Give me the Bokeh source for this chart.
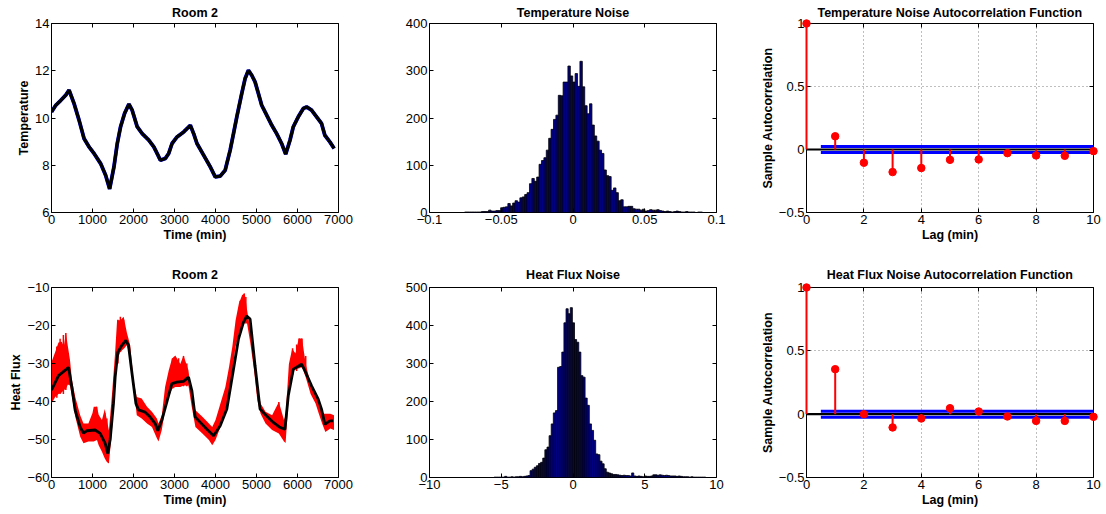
from bokeh.plotting import figure
from bokeh.models import Range1d, FixedTicker, LinearAxis, Span
from bokeh.layouts import column, row
from bokeh.embed import file_html
from bokeh.resources import INLINE

FONT = "Liberation Sans"
M = "\u2212"

# ---------------- data ----------------
# Room 2 temperature (smoothed, min)
temp_time = [0, 105, 227, 348, 429, 551, 672, 794, 915, 1037, 1199, 1320, 1418, 1523, 1604, 1685,
             1782, 1888, 1968, 2090, 2212, 2373, 2495, 2576, 2656, 2778, 2859, 2940, 3062, 3224,
             3386, 3467, 3548, 3710, 3873, 3993, 4115, 4236, 4358, 4439, 4520, 4641, 4722, 4803,
             4884, 4965, 5046, 5127, 5249, 5370, 5492, 5613, 5712, 5817, 5898, 6019, 6141, 6222,
             6343, 6465, 6586, 6667, 6789, 6894]
temp_value = [10.26, 10.54, 10.75, 10.97, 11.18, 10.61, 9.91, 9.13, 8.78, 8.5, 8.07, 7.58, 7.0,
              7.93, 8.92, 9.63, 10.19, 10.59, 10.33, 9.63, 9.34, 9.06, 8.78, 8.5, 8.21, 8.29, 8.5,
              8.92, 9.2, 9.41, 9.69, 9.34, 8.92, 8.43, 7.93, 7.51, 7.54, 7.79, 8.64, 9.34, 10.05,
              11.04, 11.67, 12.02, 11.81, 11.53, 11.04, 10.54, 10.12, 9.7, 9.34, 8.92, 8.47, 9.06,
              9.63, 10.05, 10.4, 10.47, 10.33, 10.05, 9.77, 9.27, 8.99, 8.71]

# Room 2 heat flux (smoothed)
heat_time = [0, 171, 374, 415, 496, 577, 699, 780, 862, 1065, 1187, 1309, 1374, 1431, 1512, 1553,
             1618, 1716, 1813, 1878, 1960, 2058, 2123, 2285, 2407, 2529, 2594, 2692, 2814, 2936,
             3057, 3220, 3342, 3423, 3505, 3630, 3791, 3953, 4115, 4277, 4439, 4560, 4681, 4763,
             4844, 4965, 5087, 5249, 5411, 5573, 5694, 5775, 5898, 6100, 6181, 6343, 6505, 6586,
             6667, 6789, 6870]
heat_value = [-37.0, -33.2, -31.4, -31.0, -36.2, -42.3, -46.7, -48.3, -47.7, -47.5, -48.4, -51.0,
              -53.7, -50.0, -40.5, -33.6, -27.0, -25.2, -23.9, -25.2, -32.3, -40.5, -42.2, -42.8,
              -44.1, -45.8, -47.7, -44.9, -40.1, -35.3, -34.9, -34.7, -33.6, -37.1, -44.1, -45.5,
              -47.3, -49.0, -46.4, -42.0, -31.5, -23.6, -19.2, -17.5, -18.3, -30.6, -42.0, -43.8,
              -45.5, -46.8, -47.3, -38.5, -31.5, -30.2, -31.9, -35.9, -39.4, -42.0, -46.0, -45.1,
              -45.1]

# Room 2 heat flux measurements: envelope of the noisy red trace
env_time = [0, 90, 170, 250, 300, 350, 400, 450, 500, 580, 700, 780, 900, 1000, 1030, 1110, 1150,
            1230, 1300, 1350, 1400, 1470, 1550, 1600, 1680, 1760, 1840, 1920, 2000, 2080, 2200,
            2330, 2450, 2570, 2610, 2690, 2770, 2860, 2940, 3020, 3140, 3220, 3340, 3420, 3510,
            3680, 3840, 3920, 4000, 4120, 4240, 4330, 4410, 4490, 4570, 4650, 4715, 4770, 4850,
            4940, 5020, 5100, 5220, 5380, 5545, 5670, 5710, 5790, 5870, 5950, 6030, 6110, 6200,
            6320, 6440, 6520, 6600, 6680, 6800, 6890]
env_upper = [-29.6, -27.0, -24.5, -24.3, -25.5, -22.0, -25.5, -29.0, -34.4, -38.8, -43.6, -45.8,
             -45.8, -43.0, -41.4, -41.4, -43.5, -44.9, -42.0, -44.9, -47.6, -38.8, -27.4, -18.6,
             -18.6, -17.7, -22.0, -25.2, -34.4, -38.8, -39.2, -41.4, -42.7, -44.5, -45.8, -43.6,
             -36.2, -31.8, -28.7, -27.9, -30.1, -27.9, -31.8, -38.8, -42.3, -44.0, -45.8, -46.7,
             -44.9, -40.5, -36.2, -30.9, -25.6, -18.6, -14.2, -12.0, -11.6, -15.9, -21.2, -28.3,
             -36.2, -40.5, -42.7, -43.6, -40.1, -44.9, -43.6, -30.1, -26.1, -27.4, -23.4, -23.4,
             -30.1, -35.3, -38.0, -39.2, -43.2, -43.2, -43.2, -43.6]
env_lower = [-40.5, -38.8, -38.0, -37.6, -37.0, -36.7, -35.5, -35.8, -38.8, -44.0, -49.3, -51.0,
             -50.5, -50.5, -50.5, -50.1, -51.5, -53.2, -55.0, -55.9, -56.3, -48.4, -36.2, -29.1,
             -27.0, -26.1, -25.2, -28.3, -36.2, -43.6, -44.5, -45.8, -46.7, -49.7, -50.5, -47.5,
             -42.3, -38.8, -36.7, -36.2, -36.2, -35.8, -35.8, -41.4, -46.7, -48.4, -50.1, -51.5,
             -50.1, -46.7, -42.3, -38.8, -31.8, -25.6, -22.1, -19.5, -19.5, -19.5, -24.7, -31.8,
             -39.7, -43.2, -45.8, -47.5, -48.4, -50.5, -50.9, -38.0, -32.7, -31.3, -31.3, -30.9,
             -33.6, -38.0, -40.5, -43.2, -45.8, -48.0, -47.1, -47.5]
# individual spikes of the noisy trace
spike_time = [130, 210, 290, 350, 1060, 1100, 1300, 1350, 1620, 1680, 1760, 2950, 3100, 3220,
              3300, 4600, 4700, 4740, 5545, 5880, 5980, 6040, 6110, 6200]
spike_low = [-39.0, -38.0, -38.0, -37.0, -48.0, -48.0, -50.0, -52.0, -30.0, -27.0, -26.0, -36.0,
             -36.0, -36.0, -36.0, -22.0, -19.0, -19.0, -48.0, -33.0, -32.0, -31.0, -31.0, -33.0]
spike_high = [-25.5, -23.5, -22.5, -22.0, -41.5, -41.4, -43.0, -44.5, -18.5, -17.7, -18.5, -28.7,
              -28.6, -28.0, -30.0, -13.5, -11.6, -12.5, -40.1, -26.0, -25.0, -23.4, -23.4, -28.0]

# Temperature noise histogram (100 bins)
temp_hist_start = -0.0772
temp_hist_width = 0.001674
temp_hist_counts = [0, 1, 1, 1, 1, 1, 1, 1, 2, 2, 2, 5, 3, 3, 4, 4, 10, 11, 12, 19, 14, 20, 25, 22,
                    31, 33, 38, 42, 61, 72, 66, 75, 102, 110, 116, 132, 157, 176, 197, 206, 248,
                    247, 276, 276, 310, 289, 276, 294, 267, 320, 266, 226, 209, 230, 185, 162, 151,
                    132, 125, 90, 78, 76, 47, 52, 42, 25, 27, 12, 12, 13, 13, 8, 7, 7, 5, 7, 3, 4,
                    6, 5, 5, 6, 4, 3, 2, 3, 2, 1, 2, 3, 2, 1, 1, 2, 1, 1, 1, 0, 1, 1]

# Heat flux noise histogram (100 bins)
heat_hist_start = -5.5
heat_hist_width = 0.1475
heat_hist_counts = [1, 1, 1, 1, 1, 3, 1, 1, 2, 1, 2, 2, 3, 2, 3, 4, 5,
                    18, 22, 27, 31, 37, 40, 51, 73, 80, 110, 141, 170, 176, 290, 292, 330, 407,
                    444, 431, 447, 407, 363, 356, 330, 268, 264, 209, 190, 141, 124, 98, 62, 60,
                    43, 36, 23, 14, 12, 10, 8,
                    8, 7, 6, 5, 6, 5, 5, 4, 12, 4, 3, 4, 3, 2, 4, 3, 3, 4, 7, 7, 6, 7, 6, 5, 6, 5,
                    4, 4, 4, 3, 4, 3, 2, 2, 2, 1, 2, 1, 1, 1, 1, 1, 1]

# Autocorrelation functions
lags = [0, 1, 2, 3, 4, 5, 6, 7, 8, 9, 10]
temp_acf = [1.0, 0.105, -0.105, -0.179, -0.147, -0.082, -0.079, -0.029, -0.047, -0.050, -0.013]
heat_acf = [1.0, 0.355, 0.0, -0.105, -0.034, 0.047, 0.021, -0.018, -0.053, -0.053, -0.021]
temp_bound = 0.0235
heat_bound = 0.0235
bound_start_lag = 0.5

# ticks
time_ticks = [0, 1000, 2000, 3000, 4000, 5000, 6000, 7000]
time_labels = ["0", "1000", "2000", "3000", "4000", "5000", "6000", "7000"]
temp_ticks = [6, 8, 10, 12, 14]
temp_labels = ["6", "8", "10", "12", "14"]
flux_ticks = [-60, -50, -40, -30, -20, -10]
flux_labels = [M + "60", M + "50", M + "40", M + "30", M + "20", M + "10"]
tn_ticks = [-0.1, -0.05, 0, 0.05, 0.1]
tn_labels = [M + "0.1", M + "0.05", "0", "0.05", "0.1"]
tn_count_ticks = [0, 100, 200, 300, 400]
tn_count_labels = ["0", "100", "200", "300", "400"]
hn_ticks = [-10, -5, 0, 5, 10]
hn_labels = [M + "10", M + "5", "0", "5", "10"]
hn_count_ticks = [0, 100, 200, 300, 400, 500]
hn_count_labels = ["0", "100", "200", "300", "400", "500"]
lag_ticks = [0, 2, 4, 6, 8, 10]
lag_labels = ["0", "2", "4", "6", "8", "10"]
acf_ticks = [-0.5, 0, 0.5, 1]
acf_labels = [M + "0.5", "0", "0.5", "1"]


# ---------------- helpers ----------------
def style_axis(ax, ticks, labels, label=None):
    ax.ticker = FixedTicker(ticks=ticks)
    ax.major_label_overrides = {t: s for t, s in zip(ticks, labels)}
    ax.major_tick_in = 4
    ax.major_tick_out = 0
    ax.major_tick_line_color = "black"
    ax.minor_tick_line_color = None
    ax.axis_line_color = None
    ax.major_label_text_font = FONT
    ax.major_label_text_font_size = "13px"
    ax.major_label_text_color = "black"
    ax.major_label_standoff = 2
    if label:
        ax.axis_label = label
        ax.axis_label_text_font = FONT
        ax.axis_label_text_font_size = "12.5px"
        ax.axis_label_text_font_style = "bold"
        ax.axis_label_text_color = "black"
        ax.axis_label_standoff = 1


def mirror_axis(p, ticks, loc):
    ax = LinearAxis(ticker=FixedTicker(ticks=ticks))
    ax.major_label_overrides = {t: "" for t in ticks}
    ax.major_label_text_font_size = "0px"
    ax.major_label_standoff = 0
    ax.major_tick_in = 4
    ax.major_tick_out = 0
    ax.major_tick_line_color = "black"
    ax.minor_tick_line_color = None
    ax.axis_line_color = None
    p.add_layout(ax, loc)


def make_fig(w, h, xr, yr, xt, xl, yt, yl, title, xlabel, ylabel, borders, title_standoff,
             grid=False):
    p = figure(width=w, height=h, x_range=Range1d(*xr), y_range=Range1d(*yr),
               output_backend="svg", toolbar_location=None, title=title,
               min_border_left=borders[0], min_border_right=borders[1],
               min_border_top=borders[2], min_border_bottom=borders[3])
    p.title.align = "center"
    p.title.text_font = FONT
    p.title.text_font_size = "12.5px"
    p.title.text_font_style = "bold"
    p.title.text_color = "black"
    p.title.standoff = title_standoff
    p.outline_line_color = "black"
    p.outline_line_width = 1
    p.outline_line_alpha = 1
    p.background_fill_color = "white"
    p.border_fill_color = "white"
    style_axis(p.xaxis[0], xt, xl, xlabel)
    style_axis(p.yaxis[0], yt, yl, ylabel)
    mirror_axis(p, xt, "above")
    mirror_axis(p, yt, "right")
    if grid:
        for g in (p.xgrid[0], p.ygrid[0]):
            g.grid_line_color = "black"
            g.grid_line_alpha = 0.5
            g.grid_line_dash = "1 3"
            g.grid_line_width = 1
        p.xgrid[0].ticker = FixedTicker(ticks=xt)
        p.ygrid[0].ticker = FixedTicker(ticks=yt)
    else:
        p.grid.visible = False
    return p


def hist(p, start, width, counts):
    left = [start + i * width for i in range(len(counts))]
    right = [start + (i + 1) * width for i in range(len(counts))]
    p.quad(left=left, right=right, top=counts, bottom=0, fill_color="#000080",
           line_color="black", line_width=0.8)


def acf(p, values, bound):
    p.add_layout(Span(location=0, dimension="width", line_color="black", line_width=2.2))
    for b in (bound, -bound):
        p.segment(x0=bound_start_lag, x1=lags[-1], y0=b, y1=b, line_color="#0000ff",
                  line_width=3)
    p.segment(x0=lags, y0=[0] * len(lags), x1=lags, y1=values, line_color="#ff0000",
              line_width=2, level="overlay")
    p.scatter(lags, values, size=7.5, fill_color="#ff0000", line_color="#ff0000",
              level="overlay")


# widths / borders (left, right) and heights / borders (top, bottom)
W1, W2, W3 = 380, 370, 355
H1, H2 = 255, 258
B1 = (51, 42)
B2 = (49, 34)
B3 = (56, 12)
T_TOP, B_TOP = 23, 43
T_BOT, B_BOT = 32, 36
ST_TOP, ST_BOT = 7, 12

# ---- top row ----
p1 = make_fig(W1, H1, (0, 7000), (6, 14), time_ticks, time_labels, temp_ticks, temp_labels,
              "Room 2", "Time (min)", "Temperature", B1 + (T_TOP, B_TOP), ST_TOP)
p1.line(temp_time, temp_value, line_color="#0000ff", line_width=3.8)
p1.line(temp_time, temp_value, line_color="black", line_width=3.2)

p2 = make_fig(W2, H1, (-0.1, 0.1), (0, 400), tn_ticks, tn_labels, tn_count_ticks,
              tn_count_labels, "Temperature Noise", None, None, B2 + (T_TOP, B_TOP), ST_TOP)
hist(p2, temp_hist_start, temp_hist_width, temp_hist_counts)

p3 = make_fig(W3, H1, (0, 10), (-0.5, 1), lag_ticks, lag_labels, acf_ticks, acf_labels,
              "Temperature Noise Autocorrelation Function", "Lag (min)",
              "Sample Autocorrelation", B3 + (T_TOP, B_TOP), ST_TOP, grid=True)
acf(p3, temp_acf, temp_bound)

# ---- bottom row ----
p4 = make_fig(W1, H2, (0, 7000), (-60, -10), time_ticks, time_labels, flux_ticks, flux_labels,
              "Room 2", "Time (min)", "Heat Flux", B1 + (T_BOT, B_BOT), ST_BOT)
p4.varea(x=env_time, y1=env_lower, y2=env_upper, fill_color="#ff0000")
p4.segment(x0=spike_time, y0=spike_low, x1=spike_time, y1=spike_high, line_color="#ff0000",
           line_width=1.5)
p4.line(heat_time, heat_value, line_color="black", line_width=2.8)

p5 = make_fig(W2, H2, (-10, 10), (0, 500), hn_ticks, hn_labels, hn_count_ticks,
              hn_count_labels, "Heat Flux Noise", None, None, B2 + (T_BOT, B_BOT), ST_BOT)
hist(p5, heat_hist_start, heat_hist_width, heat_hist_counts)

p6 = make_fig(W3, H2, (0, 10), (-0.5, 1), lag_ticks, lag_labels, acf_ticks, acf_labels,
              "Heat Flux Noise Autocorrelation Function", "Lag (min)",
              "Sample Autocorrelation", B3 + (T_BOT, B_BOT), ST_BOT, grid=True)
acf(p6, heat_acf, heat_bound)

layout = column(row(p1, p2, p3), row(p4, p5, p6))

open("out.html", "w").write(file_html(layout, INLINE))
